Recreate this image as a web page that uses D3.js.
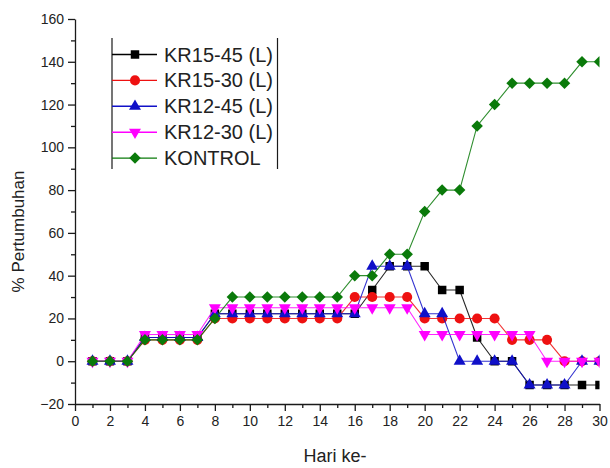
<!DOCTYPE html>
<html>
<head>
<meta charset="utf-8">
<script src="https://cdn.jsdelivr.net/npm/d3@7"></script>
<style>
  html, body { margin: 0; padding: 0; background: #fff; }
  svg { display: block; font-family: "Liberation Sans", Arial, sans-serif; }
</style>
</head>
<body>
<svg id="chart" width="610" height="468"></svg>
<script>
// Days of observation
const days = [1,2,3,4,5,6,7,8,9,10,11,12,13,14,15,16,17,18,19,20,21,22,23,24,25,26,27,28,29,30];

// Growth percentage per treatment
const kr1545 = [0,0,0,11.1,11.1,11.1,11.1,22.2,22.2,22.2,22.2,22.2,22.2,22.2,22.2,22.2,33.3,44.4,44.4,44.4,33.3,33.3,11.1,0,0,-11.1,-11.1,-11.1,-11.1,-11.1];
const kr1530 = [0,0,0,10,10,10,10,20,20,20,20,20,20,20,20,30,30,30,30,20,20,20,20,20,10,10,10,0,0,0];
const kr1245 = [0,0,0,11.1,11.1,11.1,11.1,22.2,22.2,22.2,22.2,22.2,22.2,22.2,22.2,22.2,44.4,44.4,44.4,22.2,22.2,0,0,0,0,-11.1,-11.1,-11.1,0,0];
const kr1230 = [0,0,0,12.5,12.5,12.5,12.5,25,25,25,25,25,25,25,25,25,25,25,25,12.5,12.5,12.5,12.5,12.5,12.5,12.5,0,0,0,0];
const kontrol = [0,0,0,10,10,10,10,20,30,30,30,30,30,30,30,40,40,50,50,70,80,80,110,120,130,130,130,130,140,140];

const seriesNames = ["KR15-45 (L)", "KR15-30 (L)", "KR12-45 (L)", "KR12-30 (L)", "KONTROL"];
const xTicks = [0,2,4,6,8,10,12,14,16,18,20,22,24,26,28,30];
const yTicks = [-20,0,20,40,60,80,100,120,140,160];

const styles = [
  { color: "#000000", symbol: "square" },
  { color: "#ee1111", symbol: "circle" },
  { color: "#1010c8", symbol: "triangleUp" },
  { color: "#ff00ff", symbol: "triangleDown" },
  { color: "#0a7a0a", symbol: "diamond" }
];
const seriesValues = [kr1545, kr1530, kr1245, kr1230, kontrol];

const svg = d3.select("#chart");
const plotLeft = 75, plotRight = 599.5, plotTop = 19, plotBottom = 404;

const x = d3.scaleLinear().domain([0, 30]).range([plotLeft, plotRight]);
const y = d3.scaleLinear().domain([-20, 160]).range([plotBottom, plotTop]);

const axisColor = "#1a1a1a";
const textColor = "#222";

// Y axis: major ticks every 20, minor every 10
svg.append("g").attr("transform", `translate(${plotLeft},0)`)
  .call(d3.axisLeft(y).tickValues(yTicks).tickSize(7).tickPadding(4).tickSizeOuter(0));
svg.append("g").attr("transform", `translate(${plotLeft},0)`)
  .call(d3.axisLeft(y).tickValues(d3.range(-10, 160, 20)).tickSize(4).tickFormat("").tickSizeOuter(0))
  .select(".domain").remove();

// X axis: major ticks every 2, minor every 1
svg.append("g").attr("transform", `translate(0,${plotBottom})`)
  .call(d3.axisBottom(x).tickValues(xTicks).tickSize(7).tickPadding(5).tickSizeOuter(0));
svg.append("g").attr("transform", `translate(0,${plotBottom})`)
  .call(d3.axisBottom(x).tickValues(d3.range(1, 30, 2)).tickSize(4).tickFormat("").tickSizeOuter(0))
  .select(".domain").remove();

svg.selectAll(".domain, .tick line").attr("stroke", axisColor).attr("stroke-width", 1.3);
svg.selectAll(".tick text").attr("fill", textColor).style("font-size", "14px")
  .style("font-family", "'Liberation Sans', Arial, sans-serif");

// Axis titles
svg.append("text")
  .attr("x", 335).attr("y", 462)
  .attr("text-anchor", "middle")
  .attr("fill", textColor)
  .style("font-size", "18px")
  .text("Hari ke-");

svg.append("text")
  .attr("transform", `translate(24,${(plotTop + plotBottom) / 2 + 20}) rotate(-90)`)
  .attr("text-anchor", "middle")
  .attr("fill", textColor)
  .style("font-size", "17px")
  .text("% Pertumbuhan");

// Plot area clip (markers at the last day are cut at the right edge)
svg.append("clipPath").attr("id", "plotClip")
  .append("rect").attr("x", plotLeft).attr("y", 0).attr("width", plotRight - plotLeft).attr("height", plotBottom);

function symbolPath(kind) {
  switch (kind) {
    case "square": return d3.symbol(d3.symbolSquare, 72)();
    case "circle": return d3.symbol(d3.symbolCircle, 80)();
    case "triangleUp": return d3.symbol(d3.symbolTriangle, 62)();
    case "triangleDown": return d3.symbol(d3.symbolTriangle, 62)();
    case "diamond": return d3.symbol(d3.symbolSquare, 66)();
  }
}
function symbolRotation(kind) {
  if (kind === "triangleDown") return 180;
  if (kind === "diamond") return 45;
  return 0;
}

const plot = svg.append("g").attr("clip-path", "url(#plotClip)");
const line = d3.line().x((d) => x(d[0])).y((d) => y(d[1]));

seriesValues.forEach((vals, i) => {
  const st = styles[i];
  const pts = days.map((d, k) => [d, vals[k]]);
  const g = plot.append("g");
  g.append("path").datum(pts)
    .attr("d", line)
    .attr("fill", "none")
    .attr("stroke", st.color)
    .attr("stroke-width", 1.1)
    .attr("stroke-opacity", 0.85);
  g.selectAll("path.mk").data(pts).enter().append("path")
    .attr("class", "mk")
    .attr("d", symbolPath(st.symbol))
    .attr("transform", (d) => `translate(${x(d[0])},${y(d[1])}) rotate(${symbolRotation(st.symbol)})`)
    .attr("fill", st.color);
});

// Legend
const lg = svg.append("g");
const lgLeft = 112, lgRight = 277.5, lgTop = 38, lgBottom = 169;
lg.append("line").attr("x1", lgLeft).attr("x2", lgLeft).attr("y1", lgTop).attr("y2", lgBottom)
  .attr("stroke", axisColor).attr("stroke-width", 1.2);
lg.append("line").attr("x1", lgRight).attr("x2", lgRight).attr("y1", lgTop).attr("y2", lgBottom)
  .attr("stroke", axisColor).attr("stroke-width", 1.2);

seriesNames.forEach((name, i) => {
  const st = styles[i];
  const cy = 54.5 + i * 25.9;
  lg.append("line").attr("x1", lgLeft).attr("x2", 157).attr("y1", cy).attr("y2", cy)
    .attr("stroke", st.color).attr("stroke-width", 1.4);
  lg.append("path").attr("d", symbolPath(st.symbol))
    .attr("transform", `translate(135,${cy}) rotate(${symbolRotation(st.symbol)})`)
    .attr("fill", st.color);
  lg.append("text").attr("x", 164).attr("y", cy + 7)
    .attr("fill", textColor)
    .style("font-size", "20px")
    .text(name);
});
</script>
</body>
</html>
